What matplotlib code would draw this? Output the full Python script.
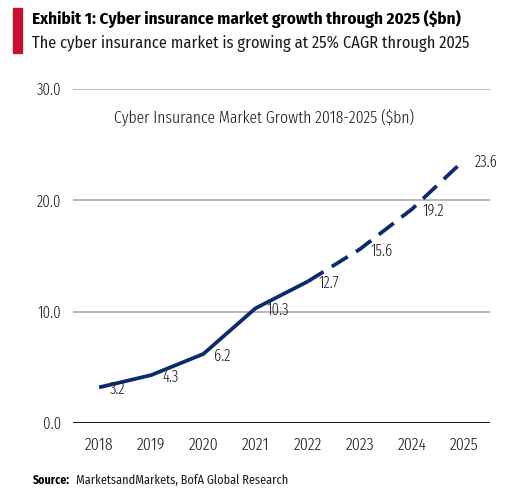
import matplotlib
matplotlib.use("Agg")
import matplotlib.pyplot as plt
from matplotlib.patches import Rectangle

years = ["2018", "2019", "2020", "2021", "2022", "2023", "2024", "2025"]
values = [3.2, 4.3, 6.2, 10.3, 12.7, 15.6, 19.2, 23.6]
labels = ["3.2", "4.3", "6.2", "10.3", "12.7", "15.6", "19.2", "23.6"]
y_ticks = [0, 10, 20, 30]
y_tick_labels = ["0.0", "10.0", "20.0", "30.0"]
solid_end = 4  # index of 2022

cond = ["Fira Sans Extra Condensed", "DejaVu Sans"]
head = ["Fira Sans Condensed", "DejaVu Sans"]

navy = "#0c2a6e"
txt = "#1a1a1a"

fig = plt.figure(figsize=(5.11, 5.01), dpi=100)
ax = fig.add_axes([73/511, 1-423/501, (490-73)/511, (423-89)/501])

x = list(range(len(years)))
ax.plot(x[:solid_end+1], values[:solid_end+1], color=navy, lw=2.7, solid_capstyle="butt")
ax.plot(x[solid_end:], values[solid_end:], color=navy, lw=2.7, linestyle=(0, (5, 2.6)), dash_capstyle="butt")

for xi, v, lab in zip(x, values, labels):
    ax.annotate(lab, (xi, v), xytext=(8, -1.5), textcoords="offset points",
                ha="left", va="center", fontsize=11.5, color=txt, family=cond, fontweight=300)

ax.set_xlim(-0.5, len(years) - 0.5)
ax.set_ylim(0, 30)
ax.set_yticks(y_ticks)
ax.set_yticklabels(y_tick_labels, family=cond, fontsize=11.5, color=txt, fontweight=300)
ax.set_xticks(x)
ax.set_xticklabels(years, family=cond, fontsize=12.5, color=txt, fontweight=300)
ax.tick_params(length=0)
ax.tick_params(axis="x", pad=10)
ax.tick_params(axis="y", pad=8.5)
for yv in y_ticks[1:]:
    ax.axhline(yv, color="#b3b3b3", lw=1.3, zorder=0)
ax.axhline(0, color="#000000", lw=2.0, zorder=1)
for s in ax.spines.values():
    s.set_visible(False)

ax.text((264-73)/417, 0.915, "Cyber Insurance Market Growth 2018-2025 ($bn)", transform=ax.transAxes,
        ha="center", va="center", fontsize=12.3, color=txt, family=cond, fontweight=300)

fig.patches.append(Rectangle((13/511, 1-53/501), 9/511, 45/501, transform=fig.transFigure,
                             color="#c8102e", zorder=5))
fig.text(32/511, 1-19/501, "Exhibit 1: Cyber insurance market growth through 2025 ($bn)",
         fontsize=12.3, fontweight="bold", family=head, ha="left", va="center", color="#000000")
fig.text(32/511, 1-44/501, "The cyber insurance market is growing at 25% CAGR through 2025",
         fontsize=11.8, family=head, ha="left", va="center", color="#1a1a1a")
fig.text(33/511, 1-480/501, "Source:", fontsize=8.5, fontweight="bold", family=head,
         ha="left", va="center", color="#000000")
fig.text(76/511, 1-480/501, "MarketsandMarkets, BofA Global Research", fontsize=8.8, family=head,
         ha="left", va="center", color="#1a1a1a")

fig.savefig("out.png", dpi=100)
